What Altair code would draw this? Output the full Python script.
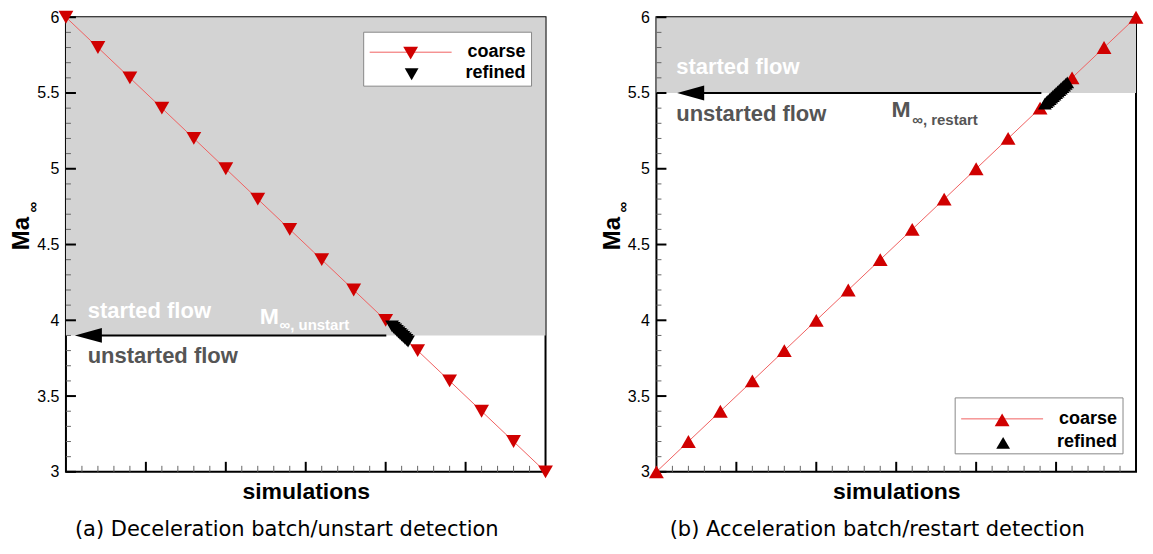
import altair as alt
import pandas as pd

# ---------------- data ----------------
sim_index = list(range(16))
ma_decel_coarse = [6.0, 5.8, 5.6, 5.4, 5.2, 5.0, 4.8, 4.6, 4.4, 4.2, 4.0, 3.8, 3.6, 3.4, 3.2, 3.0]
decel_refined_x = [10.2, 10.25, 10.3, 10.35, 10.4, 10.45, 10.5, 10.55, 10.6, 10.65, 10.7]
decel_refined_ma = [3.96, 3.95, 3.94, 3.93, 3.92, 3.91, 3.90, 3.89, 3.88, 3.87, 3.86]

ma_accel_coarse = [3.0, 3.2, 3.4, 3.6, 3.8, 4.0, 4.2, 4.4, 4.6, 4.8, 5.0, 5.2, 5.4, 5.6, 5.8, 6.0]
accel_refined_x = [12.15, 12.2, 12.25, 12.3, 12.35, 12.4, 12.45, 12.5, 12.55, 12.6, 12.65, 12.7, 12.75, 12.8, 12.85]
accel_refined_ma = [5.43, 5.44, 5.45, 5.46, 5.47, 5.48, 5.49, 5.50, 5.51, 5.52, 5.53, 5.54, 5.55, 5.56, 5.57]

unstart_ma = 3.9
restart_ma = 5.5

y_major = [3.0, 3.5, 4.0, 4.5, 5.0, 5.5, 6.0]
y_minor = [3.1, 3.2, 3.3, 3.4, 3.6, 3.7, 3.8, 3.9, 4.1, 4.2, 4.3, 4.4, 4.6, 4.7, 4.8, 4.9,
           5.1, 5.2, 5.3, 5.4, 5.6, 5.7, 5.8, 5.9]
x_major = [2.5, 5.0, 7.5, 10.0, 12.5]
x_minor = [0.5, 1.0, 1.5, 2.0, 3.0, 3.5, 4.0, 4.5, 5.5, 6.0, 6.5, 7.0, 8.0, 8.5, 9.0, 9.5,
           10.5, 11.0, 11.5, 12.0, 13.0, 13.5, 14.0, 14.5]

FONT = "Liberation Sans"
CAP_FONT = "DejaVu Sans"
RED = "#d00000"
LINE_RED = "#f06060"
GRAY_TXT = "#555555"
W, H = 480, 455
TRI = 220
TRI_R = 190

xs = alt.Scale(domain=[0, 15], nice=False, zero=False)
ys = alt.Scale(domain=[3, 6], nice=False, zero=False)

x_axis = alt.Axis(title="simulations", labels=False, ticks=False, domain=False, grid=False,
                  titleFont=FONT, titleFontSize=23, titleFontWeight="bold", titleColor="black",
                  titlePadding=9)
y_axis = alt.Axis(title="Ma", values=y_major, format="~g", labelFont=FONT, labelFontSize=16,
                  labelColor="black", labelPadding=7, ticks=False, domain=False, grid=False,
                  titleFont=FONT, titleFontSize=24, titleFontWeight="bold", titleColor="black",
                  titleAngle=270, titleX=-44, titleY=216, titleAlign="center", titleBaseline="middle")

one = pd.DataFrame({"k": [0]})


def xd(v):
    return alt.X(datum=v, scale=xs, axis=x_axis)


def yd(v):
    return alt.Y(datum=v, scale=ys, axis=y_axis)


def text_at(x, y, txt, size, color, weight="bold"):
    return alt.Chart(one).mark_text(text=txt, align="left", baseline="alphabetic", font=FONT,
                                    fontSize=size, fontWeight=weight, color=color).encode(
        x=xd(x), y=yd(y))


def panel(coarse_ma, ref_x, ref_ma, thresh, shape, ann, leg, caption):
    coarse = pd.DataFrame({"x": sim_index, "ma": coarse_ma})
    refined = pd.DataFrame({"x": ref_x, "ma": ref_ma})
    X = alt.X("x:Q", scale=xs, axis=x_axis)
    Y = alt.Y("ma:Q", scale=ys, axis=y_axis)

    shade = alt.Chart(one).mark_rect(color="#d3d3d3").encode(
        x=xd(0), x2=alt.X2(datum=15), y=yd(thresh), y2=alt.Y2(datum=6))

    ymaj = alt.Chart(pd.DataFrame({"v": y_major})).mark_rule(color="black", strokeWidth=2).encode(
        y=alt.Y("v:Q", scale=ys, axis=y_axis), x=alt.value(0), x2=alt.value(10))
    ymin = alt.Chart(pd.DataFrame({"v": y_minor})).mark_rule(color="#666666", strokeWidth=1).encode(
        y=alt.Y("v:Q", scale=ys, axis=y_axis), x=alt.value(0), x2=alt.value(5))
    xmaj = alt.Chart(pd.DataFrame({"v": x_major})).mark_rule(color="black", strokeWidth=2).encode(
        x=alt.X("v:Q", scale=xs, axis=x_axis), y=alt.value(H), y2=alt.value(H - 10))
    xmin = alt.Chart(pd.DataFrame({"v": x_minor})).mark_rule(color="#666666", strokeWidth=1).encode(
        x=alt.X("v:Q", scale=xs, axis=x_axis), y=alt.value(H), y2=alt.value(H - 6))

    arrow_line = alt.Chart(one).mark_rule(color="black", strokeWidth=2).encode(
        x=xd(ann["arrow_from"]), x2=alt.X2(datum=ann["arrow_to"] + 0.5), y=yd(thresh))
    arrow_head = alt.Chart(one).mark_point(shape="M0,0L2,-0.55L2,0.55Z", filled=True, size=729,
                                           color="black", opacity=1).encode(
        x=xd(ann["arrow_to"]), y=yd(thresh))

    line = alt.Chart(coarse).mark_line(color=LINE_RED, strokeWidth=1).encode(x=X, y=Y)
    pts = alt.Chart(coarse).mark_point(shape=shape, filled=True, size=TRI, color=RED,
                                       opacity=1).encode(x=X, y=Y)
    rpts = alt.Chart(refined).mark_point(shape=shape, filled=True, size=TRI_R, color="black",
                                         opacity=1).encode(x=X, y=Y)

    t_started = text_at(ann["started"][0], ann["started"][1], "started flow", 22, "white")
    t_unstarted = text_at(ann["unstarted"][0], ann["unstarted"][1], "unstarted flow", 22, GRAY_TXT)
    t_m = text_at(ann["m"][0], ann["m"][1], "M", 23, ann["m_color"])
    t_sub = text_at(ann["sub"][0], ann["sub"][1], ann["sub_text"], 15, ann["m_color"])

    inf = alt.Chart(one).mark_text(text="∞", angle=270, font=FONT, fontSize=15, fontWeight="bold",
                                   color="black").encode(x=alt.value(-33), y=alt.value(190))

    lx0, lx1, ly0, ly1 = leg["box"]
    lbox = alt.Chart(one).mark_rect(fill="white", stroke="#888888", strokeWidth=1).encode(
        x=alt.value(lx0), x2=alt.value(lx1), y=alt.value(ly0), y2=alt.value(ly1))
    lline = alt.Chart(one).mark_rule(color=LINE_RED, strokeWidth=1).encode(
        x=alt.value(lx0 + 6), x2=alt.value(lx0 + 88), y=alt.value(leg["row1"]))
    lp1 = alt.Chart(one).mark_point(shape=shape, filled=True, size=TRI, color=RED, opacity=1).encode(
        x=alt.value(lx0 + 47), y=alt.value(leg["row1"] + 1))
    lp2 = alt.Chart(one).mark_point(shape=shape, filled=True, size=TRI_R, color="black", opacity=1).encode(
        x=alt.value(lx0 + 48), y=alt.value(leg["row2"] + 1))
    lt1 = alt.Chart(one).mark_text(text="coarse", align="right", baseline="middle", font=FONT,
                                   fontSize=18, fontWeight="bold", color="black").encode(
        x=alt.value(lx1 - 6), y=alt.value(leg["row1"]))
    lt2 = alt.Chart(one).mark_text(text="refined", align="right", baseline="middle", font=FONT,
                                   fontSize=18, fontWeight="bold", color="black").encode(
        x=alt.value(lx1 - 6), y=alt.value(leg["row2"]))

    return alt.layer(
        shade, ymin, ymaj, xmin, xmaj, arrow_line, arrow_head, line, pts, rpts,
        t_started, t_unstarted, t_m, t_sub, inf, lbox, lline, lp1, lp2, lt1, lt2
    ).properties(
        width=W, height=H,
        title=alt.TitleParams(caption, orient="bottom", anchor="middle", frame="group",
                              font=CAP_FONT, fontSize=21, fontWeight="normal", color="black",
                              offset=15, dx=-19)
    )


left = panel(
    ma_decel_coarse, decel_refined_x, decel_refined_ma, unstart_ma, "triangle-down",
    {"arrow_from": 10.02, "arrow_to": 0.28, "started": (0.68, 4.017), "unstarted": (0.68, 3.717),
     "m": (6.06, 3.978), "sub": (6.68, 3.933), "sub_text": "∞, unstart", "m_color": "white"},
    {"box": (298, 466, 15, 69), "row1": 35, "row2": 56},
    "(a) Deceleration batch/unstart detection")

right = panel(
    ma_accel_coarse, accel_refined_x, accel_refined_ma, restart_ma, "triangle-up",
    {"arrow_from": 12.04, "arrow_to": 0.65, "started": (0.62, 5.628), "unstarted": (0.62, 5.315),
     "m": (7.35, 5.341), "sub": (8.0, 5.289), "sub_text": "∞, restart", "m_color": GRAY_TXT},
    {"box": (299, 467, 381, 437), "row1": 402, "row2": 425},
    "(b) Acceleration batch/restart detection")

chart = alt.hconcat(left, right, spacing=45).configure_view(
    stroke="black", strokeWidth=2
).properties(padding={"left": 1, "top": 0, "right": 0, "bottom": 0})

chart.save("out.html", embed_options={"renderer": "svg", "actions": False})
